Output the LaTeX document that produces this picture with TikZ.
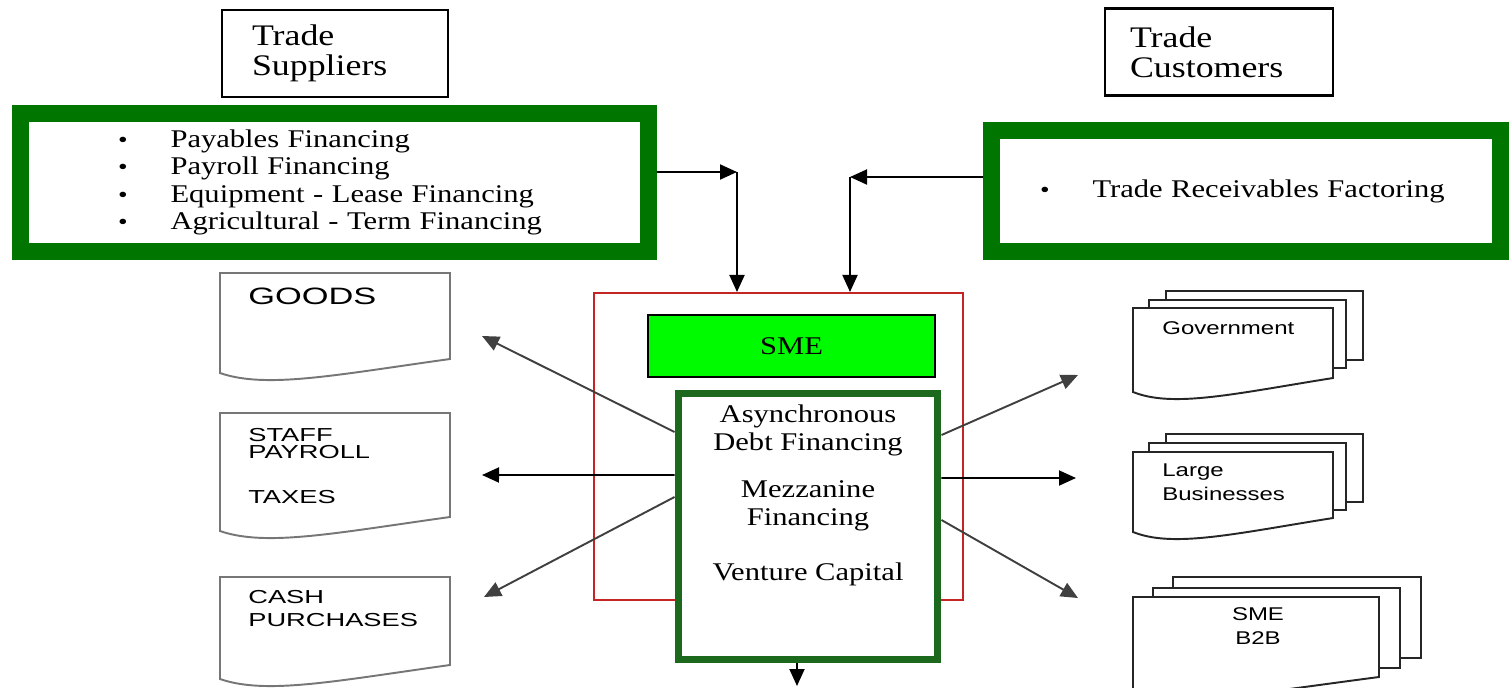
\documentclass[tikz,border=0pt]{standalone}
\usepackage{fontspec}
\setmainfont[FakeStretch=1.2]{Liberation Serif}
\newfontfamily\docfont[FakeStretch=1.45]{Liberation Sans}
\newfontfamily\pagefont[FakeStretch=1.3]{Liberation Sans}
\usepackage{xcolor}
\usepackage{tikz}
\usetikzlibrary{positioning,arrows.meta,calc}

\definecolor{framegreen}{RGB}{0,118,0}
\definecolor{boxgreen}{RGB}{28,104,28}
\definecolor{smegreen}{RGB}{0,250,0}
\definecolor{smered}{RGB}{196,36,36}
\definecolor{docgray}{RGB}{118,118,118}

\newcommand{\bul}{\makebox[1.05cm][l]{\fontsize{13}{13}\selectfont\textbullet}}
% document sheet with wavy bottom: [style]{left}{top}{right}{bottom at right}
\newcommand{\docpage}[5][]{%
  \draw[docline,#1] (#2,#3) -- (#4,#3) -- (#4,#5)
    .. controls ({#2+0.5*(#4-#2)},{#5+16}) and ({#2+0.2*(#4-#2)},{#5+30}) .. (#2,{#5+14}) -- cycle;}
\newcommand{\backpage}[4]{\draw[pageline] (#1,#2) rectangle (#3,#4);}

\begin{document}
\begin{tikzpicture}[
    x=0.02cm, y=-0.02cm,
    tradebox/.style={draw, line width=1.2pt, minimum width=4.52cm, minimum height=1.74cm,
      inner xsep=0.6cm, text width=3.32cm, align=left, font=\fontsize{17}{17}\selectfont},
    finframe/.style={draw=framegreen, line width=0.34cm, fill=white, align=left,
      font=\fontsize{14.5}{15.5}\selectfont},
    arr/.style={line width=1.1pt, -{Triangle[length=0.34cm,width=0.3cm]}},
    diag/.style={arr, draw=black!75},
    docline/.style={draw=docgray, line width=1.1pt, fill=white},
    pageline/.style={draw=black!85, line width=1.1pt, fill=white},
    doctext/.style={font=\docfont\fontsize{10.7}{13}\selectfont, inner sep=0pt},
    pagetext/.style={font=\pagefont\fontsize{10.5}{13.6}\selectfont, inner sep=0pt, align=left}
]
\useasboundingbox (0,0) rectangle (1509,687);

% Trade partners
\node[tradebox] (sup) at (335,53.5) {Trade\\Suppliers};
\node[tradebox, minimum width=4.56cm, inner xsep=0.5cm, text width=3.56cm] (cus) at (1219,52) {Trade\\Customers};

% Financing frames
\node[finframe, minimum width=12.56cm, minimum height=2.76cm, inner xsep=1.95cm, text width=8.66cm]
  (supfin) at (334.5,182.5)
  {\bul Payables Financing\\\bul Payroll Financing\\\bul Equipment - Lease Financing\\\bul Agricultural - Term Financing};
\node[finframe, minimum width=10.18cm, minimum height=2.42cm, inner xsep=0.97cm, text width=8.24cm]
  (cusfin) at (1246,191) {\bul Trade Receivables Factoring};

% SME block
\node[draw=smered, line width=1.2pt, minimum width=7.38cm, minimum height=6.14cm] (smeframe) at (778.5,446.5) {};
\node[draw, line width=1.6pt, fill=smegreen, minimum width=5.74cm, minimum height=1.24cm,
  font=\fontsize{14.5}{15}\selectfont] (sme) at (791.5,346) {SME};
\node[draw=boxgreen, line width=0.14cm, fill=white, minimum width=5.2cm, minimum height=5.34cm] (fin) at (808,526.5) {};
\node[below=0.3cm of fin.north, inner sep=0pt, align=center, font=\fontsize{14.5}{16}\selectfont] (finlbl)
  {Asynchronous\\Debt Financing\\[0.38cm]Mezzanine\\Financing\\[0.54cm]Venture Capital};

% Outgoing documents (left)
\docpage{220}{273}{450}{359}
\docpage{220}{413}{450}{517}
\docpage{220}{577}{450}{665}
\node[doctext, anchor=west, font=\docfont\fontsize{13.5}{14}\selectfont] (goods) at (248,296) {GOODS};
\node[doctext, anchor=north west, align=left, font=\docfont\fontsize{10.7}{9.8}\selectfont] (payroll) at (248,428)
  {STAFF\\PAYROLL\\[0.56cm]TAXES};
\node[doctext, anchor=north west, align=left, font=\docfont\fontsize{10.7}{13}\selectfont] (cash) at (248,590)
  {CASH\\PURCHASES};

% Buyers (right)
\backpage{1166}{291}{1363}{360}
\backpage{1149}{300}{1346}{368}
\docpage[pageline]{1133}{308}{1333}{378}
\backpage{1166}{434}{1363}{502}
\backpage{1149}{443}{1346}{510}
\docpage[pageline]{1133}{452}{1333}{518}
\backpage{1173}{577}{1421}{658}
\backpage{1153}{588}{1400}{668}
\docpage[pageline]{1133}{597}{1379}{677}
\node[pagetext, anchor=west] (gov) at (1162,328) {Government};
\node[pagetext, anchor=west] (large) at (1162,482) {Large\\Businesses};
\node[pagetext, align=center] (b2b) at (1258,626) {SME\\B2B};

% Arrow ends
\coordinate (sup-turn) at (737,172);
\coordinate (cus-turn) at (850,177);
\coordinate (goods-in) at (482,336);
\coordinate (payroll-in) at (482,475);
\coordinate (cash-in) at (484,597);
\coordinate (gov-in) at (1078,375);
\coordinate (large-in) at (1076,478);
\coordinate (b2b-in) at (1078,598);
\coordinate (fin-out) at (797,686);

% Funding into the SME
\draw[arr] ([yshift=0.21cm]supfin.east) -- (sup-turn);
\draw[arr] (sup-turn) -- (sup-turn |- smeframe.north);
\draw[arr] ([yshift=0.28cm]cusfin.west) -- (cus-turn);
\draw[arr] (cus-turn) -- (cus-turn |- smeframe.north);

% Payments out
\draw[diag] ([yshift=1.89cm]fin.west) -- (goods-in);
\draw[arr] ([yshift=1.03cm]fin.west) -- (payroll-in);
\draw[diag] ([yshift=0.59cm]fin.west) -- (cash-in);
\draw[diag] ([yshift=1.83cm]fin.east) -- (gov-in);
\draw[arr] ([yshift=0.97cm]fin.east) -- (large-in);
\draw[diag] ([yshift=0.13cm]fin.east) -- (b2b-in);
\draw[arr] (fin.south -| fin-out) -- (fin-out);

\end{tikzpicture}
\end{document}
